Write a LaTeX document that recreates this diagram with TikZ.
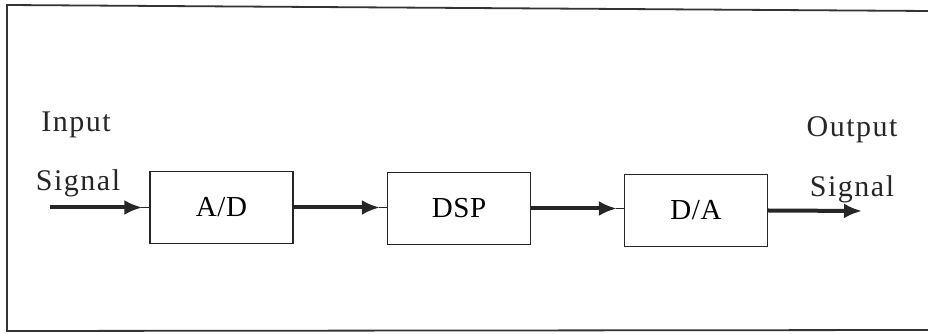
\documentclass[tikz,border=0pt]{standalone}
\usepackage{fontspec}
\setmainfont{Liberation Serif}
\usetikzlibrary{arrows.meta}
\begin{document}
\begin{tikzpicture}[x=1pt,y=1pt,
  blk/.style={draw=black!85, line width=1.3pt, minimum width=143pt, minimum height=72pt, inner sep=0pt, font=\fontsize{29}{29}\selectfont\addfontfeature{LetterSpace=2}},
  lbl/.style={inner sep=0pt, font=\fontsize{30}{30}\selectfont\addfontfeature{LetterSpace=5}, text=black!85},
  flow/.style={draw=black!85, line width=4pt, -{Latex[length=18pt,width=15pt]}, shorten >=7pt},
  stub/.style={draw=black!85, line width=1.5pt},
  frame/.style={draw=black!80, line width=1.8pt}]
\useasboundingbox (0,0) rectangle (928,334);
% frame
\coordinate (tl) at (7,329);
\coordinate (tr) at (928,323);
\coordinate (bl) at (7,3);
\coordinate (br) at (928,4);
\draw[frame] (tr) -- (tl) -- (bl) -- (br);
% blocks
\node[blk] (ad) at (221.5,126.5) {A/D};
\node[blk] (dsp) at (459,125.5) {DSP};
\node[blk] (da) at (696,123.5) {D/A};
% labels
\node[lbl] (in1) at (76,209) {Input};
\node[lbl] (in2) at (78,151) {Signal};
\node[lbl] (out1) at (852,204) {Output};
\node[lbl] (out2) at (852,145) {Signal};
% terminals
\coordinate (src) at (50,126.5);
\coordinate (snk) at (866,123);
% connectors
\draw[flow] (src) -- (ad.west);
\draw[stub] ([xshift=-8pt]ad.west) -- (ad.west);
\draw[flow] (ad.east) -- (ad.east -| dsp.west);
\draw[stub] ([xshift=-8pt]ad.east -| dsp.west) -- (ad.east -| dsp.west);
\draw[flow] (dsp.east) -- (dsp.east -| da.west);
\draw[stub] ([xshift=-8pt]dsp.east -| da.west) -- (dsp.east -| da.west);
\draw[flow, shorten >=4pt] (da.east) -- (snk);
\end{tikzpicture}
\end{document}
